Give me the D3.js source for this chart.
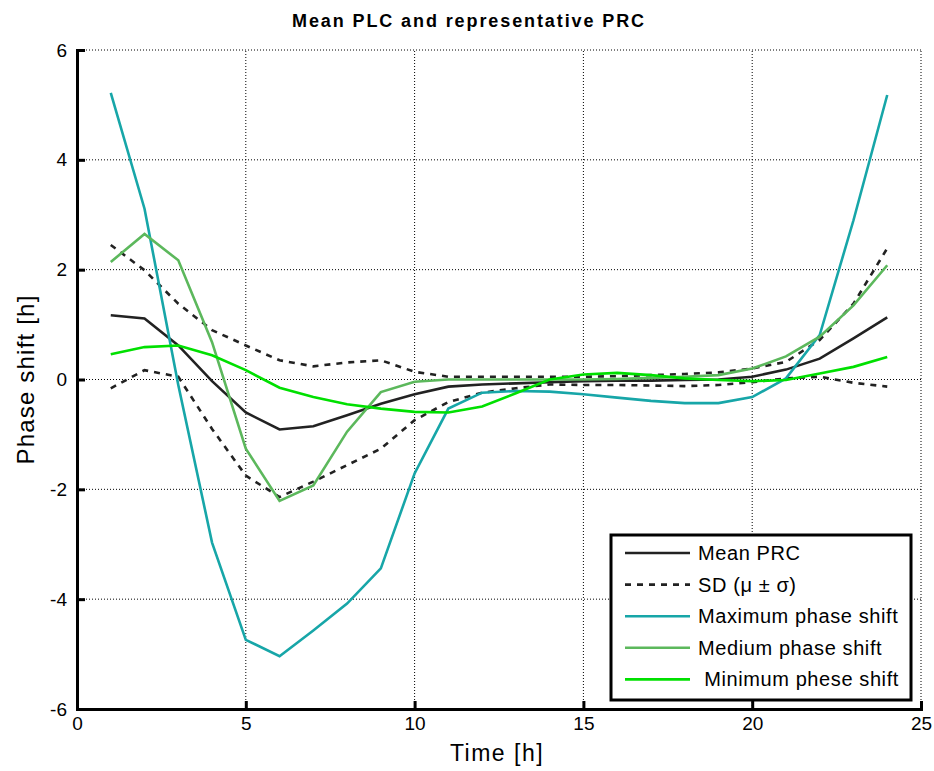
<!DOCTYPE html>
<html>
<head>
<meta charset="utf-8">
<script src="https://cdn.jsdelivr.net/npm/d3@7"></script>
<style>
  body { margin: 0; background: #fff; }
  text { font-family: "Liberation Sans", Arial, sans-serif; }
</style>
</head>
<body>
<svg id="chart" width="934" height="771"></svg>
<script>
const hours = d3.range(1, 25);

const meanPRC = [1.17, 1.11, 0.62, -0.03, -0.60, -0.91, -0.85, -0.65, -0.44, -0.27, -0.13, -0.09,
  -0.07, -0.05, -0.03, -0.02, -0.02, -0.01, 0.0, 0.05, 0.18, 0.38, 0.75, 1.13];
const sdUpper = [2.45, 1.99, 1.38, 0.90, 0.62, 0.35, 0.24, 0.31, 0.35, 0.14, 0.05, 0.05,
  0.05, 0.05, 0.05, 0.06, 0.08, 0.10, 0.13, 0.20, 0.32, 0.72, 1.38, 2.39];
const sdLower = [-0.16, 0.17, 0.05, -0.90, -1.75, -2.14, -1.86, -1.56, -1.26, -0.74, -0.41, -0.24,
  -0.16, -0.09, -0.10, -0.10, -0.11, -0.12, -0.10, -0.05, 0.02, 0.05, -0.06, -0.13];
const maxShift = [5.22, 3.11, -0.10, -2.97, -4.74, -5.04, -4.57, -4.08, -3.44, -1.71, -0.53, -0.24,
  -0.21, -0.22, -0.27, -0.33, -0.39, -0.43, -0.43, -0.32, 0.02, 0.81, 2.90, 5.18];
const medShift = [2.14, 2.65, 2.17, 0.68, -1.26, -2.21, -1.93, -0.95, -0.23, -0.04, 0.0, 0.0,
  0.0, 0.0, 0.0, 0.01, 0.03, 0.05, 0.08, 0.20, 0.42, 0.78, 1.35, 2.08];
const minShift = [0.46, 0.59, 0.62, 0.44, 0.17, -0.15, -0.32, -0.45, -0.53, -0.59, -0.60, -0.49,
  -0.25, 0.0, 0.09, 0.12, 0.08, 0.02, -0.01, -0.03, -0.01, 0.11, 0.23, 0.41];

const xTicks = [0, 5, 10, 15, 20, 25];
const yTicks = [-6, -4, -2, 0, 2, 4, 6];

const series = [
  { name: 'Mean PRC', values: meanPRC, color: '#222222', dash: null },
  { name: 'SD (\u03bc \u00b1 \u03c3)', values: sdUpper, color: '#222222', dash: '6,6' },
  { name: null, values: sdLower, color: '#222222', dash: '6,6' },
  { name: 'Maximum phase shift', values: maxShift, color: '#17a6a8', dash: null },
  { name: 'Medium phase shift', values: medShift, color: '#5cb85c', dash: null },
  { name: ' Minimum phese shift', values: minShift, color: '#00e000', dash: null },
];

const svg = d3.select('#chart');
const margin = { top: 50, right: 13, bottom: 62, left: 77 };
const width = 934, height = 771;

const x = d3.scaleLinear().domain([0, 25]).range([margin.left, width - margin.right]);
const y = d3.scaleLinear().domain([-6, 6]).range([height - margin.bottom, margin.top]);

// grid
const grid = svg.append('g').attr('stroke', '#000').attr('stroke-width', 1).attr('stroke-dasharray', '1,2');
grid.selectAll('.gx').data(xTicks.slice(1)).enter().append('line')
  .attr('x1', d => x(d)).attr('x2', d => x(d))
  .attr('y1', y(-6)).attr('y2', y(6));
grid.selectAll('.gy').data(yTicks.slice(1)).enter().append('line')
  .attr('x1', x(0)).attr('x2', x(25))
  .attr('y1', d => y(d)).attr('y2', d => y(d));

// lines
const line = d3.line().x((d, i) => x(hours[i])).y(d => y(d));
series.forEach(s => {
  svg.append('path')
    .datum(s.values)
    .attr('d', line)
    .attr('fill', 'none')
    .attr('stroke', s.color)
    .attr('stroke-width', 2.6)
    .attr('stroke-dasharray', s.dash);
});

// axes
const xAxis = svg.append('g')
  .attr('transform', `translate(0,${y(-6)})`)
  .call(d3.axisBottom(x).tickValues(xTicks).tickSize(-8).tickPadding(8));
const yAxis = svg.append('g')
  .attr('transform', `translate(${x(0)},0)`)
  .call(d3.axisLeft(y).tickValues(yTicks).tickSize(-8).tickPadding(10).tickFormat(d => String(d)));
[xAxis, yAxis].forEach(a => {
  a.select('.domain').attr('stroke', '#000').attr('stroke-width', 3);
  a.selectAll('.tick line').attr('stroke', '#000').attr('stroke-width', 3);
  a.selectAll('.tick text').attr('fill', '#000').style('font-size', '19px');
});

// title & labels
svg.append('text')
  .attr('x', 469).attr('y', 27)
  .attr('text-anchor', 'middle')
  .style('font-size', '18px').style('font-weight', 'bold')
  .style('letter-spacing', '1.9px')
  .text('Mean PLC and representative PRC');

svg.append('text')
  .attr('x', 497).attr('y', 761)
  .attr('text-anchor', 'middle')
  .style('font-size', '23px')
  .style('letter-spacing', '1.5px')
  .text('Time [h]');

svg.append('text')
  .attr('transform', `translate(34,${y(0)}) rotate(-90)`)
  .attr('text-anchor', 'middle')
  .style('font-size', '24px')
  .style('letter-spacing', '1.2px')
  .text('Phase shift [h]');

// legend
const legendItems = series.filter(s => s.name);
const legend = svg.append('g').attr('transform', 'translate(611,535)');
legend.append('rect')
  .attr('width', 300).attr('height', 165)
  .attr('fill', '#fff').attr('stroke', '#000').attr('stroke-width', 3);
const item = legend.selectAll('.item').data(legendItems).enter().append('g')
  .attr('transform', (d, i) => `translate(0,${18 + i * 31.6})`);
item.append('line')
  .attr('x1', 14).attr('x2', 79)
  .attr('stroke', d => d.color).attr('stroke-width', 2.6)
  .attr('stroke-dasharray', d => d.dash);
item.append('text')
  .attr('x', 87).attr('y', 7)
  .style('font-size', '20px')
  .style('letter-spacing', '0.6px')
  .style('white-space', 'pre')
  .text(d => d.name);
</script>
</body>
</html>
